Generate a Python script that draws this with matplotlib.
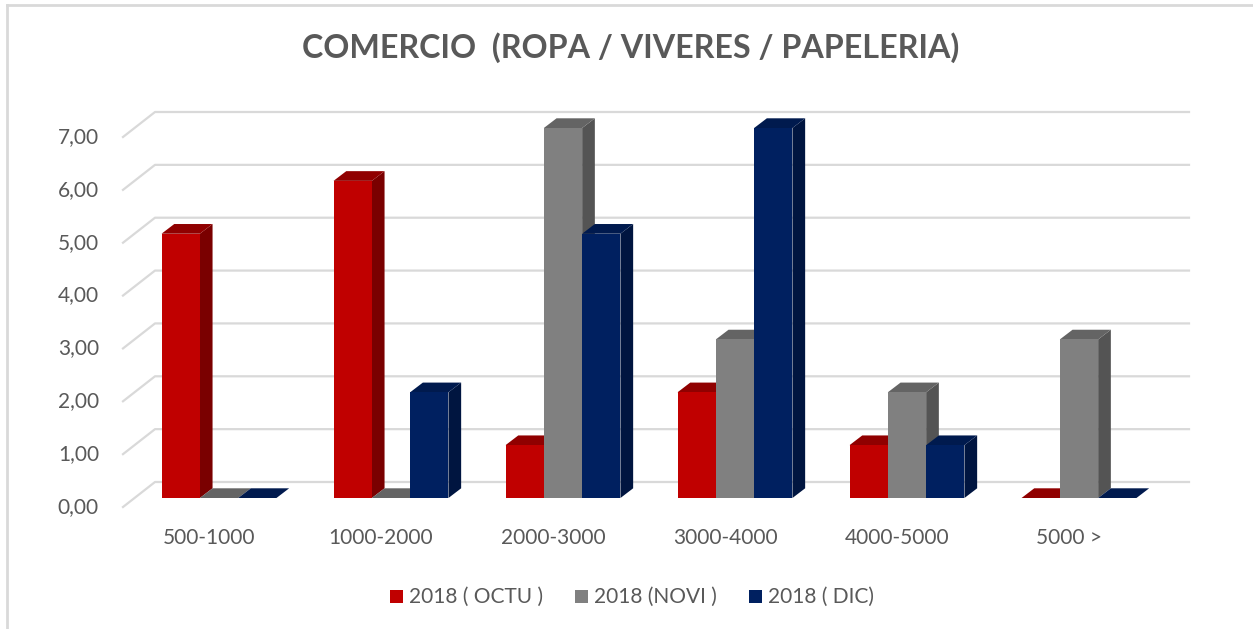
import matplotlib
matplotlib.use("Agg")
import matplotlib.pyplot as plt
from matplotlib.patches import Polygon, Rectangle
from matplotlib.lines import Line2D

# datos del grafico
categorias = ["500-1000", "1000-2000", "2000-3000", "3000-4000", "4000-5000", "5000 >"]
series = ["2018 ( OCTU )", "2018 (NOVI )", "2018 ( DIC)"]
octu = [5, 6, 1, 2, 1, 0]
novi = [0, 0, 7, 3, 2, 3]
dic = [0, 2, 5, 7, 1, 0]
y_ticks = [0, 1, 2, 3, 4, 5, 6, 7]
y_labels = ["0,00", "1,00", "2,00", "3,00", "4,00", "5,00", "6,00", "7,00"]

# colores: frente, lado, arriba
colores = [
    ("#C00000", "#7A0000", "#900000"),
    ("#808080", "#545454", "#646464"),
    ("#002060", "#001540", "#001A4E"),
]
texto_gris = "#595959"

plt.rcParams["font.family"] = ["Lato", "DejaVu Sans"]

W, H = 1253, 629
fig = plt.figure(figsize=(W / 100, H / 100), dpi=100)

# ejes: x en pixeles 100..1200, valor 0 en y=498 px, 7 en y=128 px
px_unit = 172.0
x0_px = 219.0
ax = fig.add_axes([100 / W, 1 - 498 / H, 1100 / W, 370 / H])
ax.set_xlim((100 - x0_px) / px_unit, (1200 - x0_px) / px_unit)
ax.set_ylim(0, 7)
ax.axis("off")

v_unit = 370 / 7.0
ancho = 38.3 / px_unit
prof_x = 12.7 / px_unit
prof_y = 9.7 / v_unit

# rejilla en la pared del fondo
back_dy = 16 / v_unit
front_dy = -9 / v_unit
gx_left = (123 - x0_px) / px_unit
gx_wall = (155 - x0_px) / px_unit
gx_right = (1189 - x0_px) / px_unit
for v in y_ticks:
    ax.add_line(Line2D([gx_left, gx_wall, gx_right],
                       [v + front_dy, v + back_dy, v + back_dy],
                       color="#D9D9D9", lw=1.6, clip_on=False, zorder=1))

# etiquetas eje y
lx = (99 - x0_px) / px_unit
for v, lab in zip(y_ticks, y_labels):
    ax.text(lx, v + front_dy, lab, ha="right", va="center",
            fontsize=15, color=texto_gris, clip_on=False)

# barras con efecto 3D
valores = [octu, novi, dic]
z = 2
for i in range(len(categorias)):
    for s in range(3):
        v = valores[s][i]
        fc, sc, tc = colores[s]
        xl = i + (s - 1.5) * ancho
        xr = xl + ancho
        if v > 0:
            ax.add_patch(Polygon([(xr, 0), (xr + prof_x, prof_y),
                                  (xr + prof_x, v + prof_y), (xr, v)],
                                 closed=True, fc=sc, ec="none", zorder=z, clip_on=False))
        ax.add_patch(Polygon([(xl, v), (xr, v), (xr + prof_x, v + prof_y),
                              (xl + prof_x, v + prof_y)],
                             closed=True, fc=tc, ec="none", zorder=z, clip_on=False))
        if v > 0:
            ax.add_patch(Rectangle((xl, 0), ancho, v, fc=fc, ec="none",
                                   zorder=z, clip_on=False))
        z += 1

# etiquetas de categorias
for i, cat in enumerate(categorias):
    ax.text(i - 10 / px_unit, -39.5 / v_unit, cat, ha="center", va="center",
            fontsize=15, color=texto_gris, clip_on=False)

# titulo
fig.text(631 / W, 1 - 48 / H, "COMERCIO  (ROPA / VIVERES / PAPELERIA)",
         ha="center", va="center", fontsize=23.2, fontweight="bold", color=texto_gris)

# leyenda
leg_sq = [390, 575, 749]
for s, nombre in enumerate(series):
    fig.patches.append(Rectangle((leg_sq[s] / W, 1 - 603 / H), 13 / W, 13 / H,
                                 transform=fig.transFigure, fc=colores[s][0],
                                 ec="none"))
    fig.text((leg_sq[s] + 19) / W, 1 - 597 / H, nombre, ha="left", va="center",
             fontsize=15, color=texto_gris)

# borde del grafico
fig.add_artist(Line2D([7 / W, 7 / W], [0, 1 - 5 / H], color="#D9D9D9", lw=2,
                      transform=fig.transFigure))
fig.add_artist(Line2D([7 / W, 1], [1 - 5 / H, 1 - 5 / H], color="#D9D9D9", lw=2,
                      transform=fig.transFigure))

fig.savefig("out.png", dpi=100, facecolor="white")
